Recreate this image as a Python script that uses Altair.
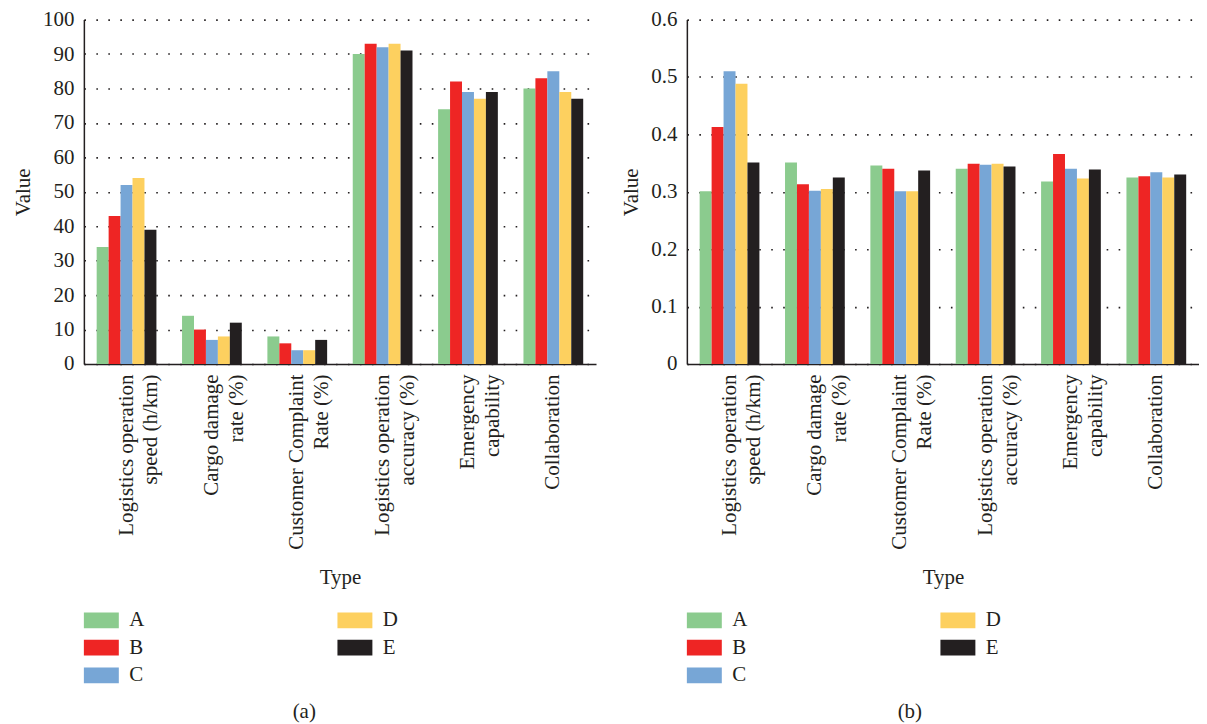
import altair as alt
import pandas as pd

categories = [
    "Logistics operation speed (h/km)",
    "Cargo damage rate (%)",
    "Customer Complaint Rate (%)",
    "Logistics operation accuracy (%)",
    "Emergency capability",
    "Collaboration",
]
label_lines = [
    ["Logistics operation", "speed (h/km)"],
    ["Cargo damage", "rate (%)"],
    ["Customer Complaint", "Rate (%)"],
    ["Logistics operation", "accuracy (%)"],
    ["Emergency", "capability"],
    ["Collaboration"],
]
series = ["A", "B", "C", "D", "E"]
colors = ["#8BCB8E", "#EE2524", "#77A6D6", "#FDD05F", "#231F20"]

# panel (a)
a_A = [34, 14, 8, 90, 74, 80]
a_B = [43, 10, 6, 93, 82, 83]
a_C = [52, 7, 4, 92, 79, 85]
a_D = [54, 8, 4, 93, 77, 79]
a_E = [39, 12, 7, 91, 79, 77]
a_ticks = [0, 10, 20, 30, 40, 50, 60, 70, 80, 90, 100]

# panel (b)
b_A = [0.301, 0.351, 0.346, 0.340, 0.318, 0.325]
b_B = [0.413, 0.313, 0.340, 0.349, 0.366, 0.327]
b_C = [0.510, 0.302, 0.301, 0.347, 0.340, 0.334]
b_D = [0.488, 0.305, 0.301, 0.349, 0.323, 0.325]
b_E = [0.351, 0.325, 0.337, 0.344, 0.339, 0.330]
b_ticks = [0, 0.1, 0.2, 0.3, 0.4, 0.5, 0.6]

FONT = "Liberation Serif"
FS = 21
INK = "#231F20"


def long_df(cols):
    rows = []
    for s, vals in zip(series, cols):
        for c, v in zip(categories, vals):
            rows.append({"Type": c, "Series": s, "Value": v})
    return pd.DataFrame(rows)


def js_str(s):
    return "'" + s.replace("'", "\\'") + "'"


label_expr = ""
for c, lines in zip(categories, label_lines):
    label_expr += "datum.value == " + js_str(c) + " ? [" + ",".join(js_str(l) for l in lines) + "] : "
label_expr += "datum.label"


def panel(df, ymax, ticks, caption, ylabel_expr):
    return (
        alt.Chart(df, title=alt.TitleParams(
            caption, orient="bottom", anchor="middle", frame="bounds",
            font=FONT, fontSize=FS, fontWeight="normal", color=INK, offset=16))
        .mark_bar()
        .encode(
            x=alt.X("Type:N", sort=categories, title="Type",
                    scale=alt.Scale(paddingInner=0.3, paddingOuter=0.15),
                    axis=alt.Axis(labelAngle=270, labelExpr=label_expr,
                                  labelLineHeight=25, labelLimit=400,
                                  labelPadding=10, ticks=False,
                                  titlePadding=17)),
            xOffset=alt.XOffset("Series:N", sort=series,
                                scale=alt.Scale(paddingInner=0, paddingOuter=0)),
            y=alt.Y("Value:Q", title="Value",
                    scale=alt.Scale(domain=[0, ymax], nice=False),
                    axis=alt.Axis(values=ticks, labelExpr=ylabel_expr,
                                  ticks=False, labelPadding=10, titlePadding=9,
                                  grid=True, gridColor=INK, gridDash=[1.6, 10.4],
                                  gridWidth=1.6)),
            color=alt.Color(
                "Series:N",
                scale=alt.Scale(domain=series, range=colors),
                legend=alt.Legend(
                    orient="none", legendX=7, legendY=591, columns=2,
                    title=None,
                    symbolType="M-2,-0.9H2V0.9H-2Z", symbolSize=306.25,
                    symbolStrokeWidth=0, symbolOpacity=1,
                    labelOffset=17.5, labelFont=FONT, labelFontSize=FS,
                    labelColor=INK, columnPadding=193, rowPadding=5.7,
                    padding=0),
            ),
        )
        .properties(width=513, height=345)
    )


left = panel(long_df([a_A, a_B, a_C, a_D, a_E]), 100, a_ticks, "(a)",
             "datum.label")
right = panel(long_df([b_A, b_B, b_C, b_D, b_E]), 0.6, b_ticks, "(b)",
              "datum.value == 0 ? '0' : format(datum.value, '.1f')")

chart = (
    alt.hconcat(left, right, spacing=24)
    .resolve_scale(color="independent")
    .properties(padding={"left": 4, "top": 0, "right": 0, "bottom": 0})
    .configure_view(stroke=None)
    .configure_axis(
        labelFont=FONT, labelFontSize=FS, labelColor=INK,
        titleFont=FONT, titleFontSize=FS, titleColor=INK,
        titleFontWeight="normal", domainColor=INK, domainWidth=1.5,
    )
)

chart.save("out.html", embed_options={"renderer": "svg", "actions": False})
